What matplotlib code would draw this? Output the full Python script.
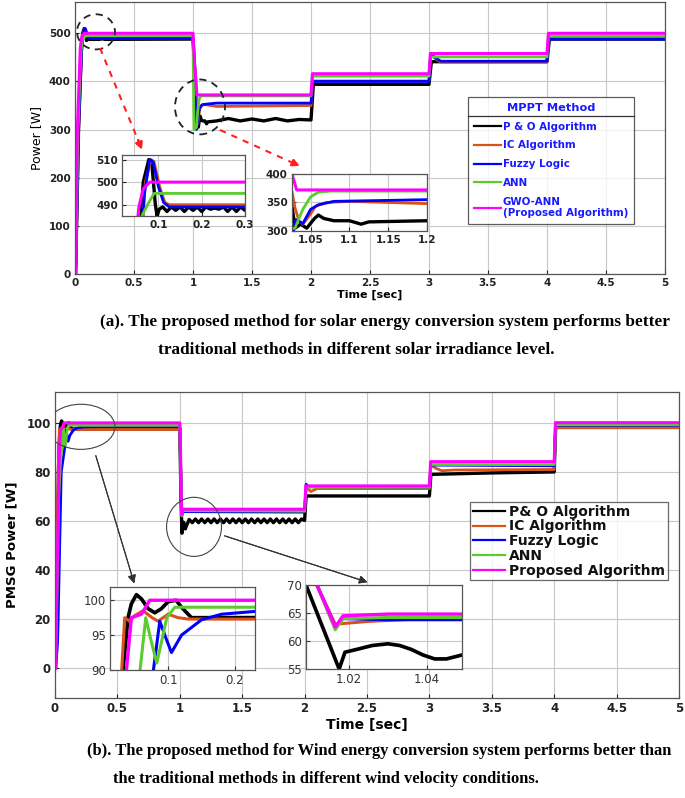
import numpy as np
import matplotlib
matplotlib.use('Agg')
import matplotlib.pyplot as plt
from matplotlib.patches import Ellipse
from matplotlib.lines import Line2D
from matplotlib.ticker import FormatStrFormatter

# ---------------- data: solar (a) ----------------
labels_a = ['P & O Algorithm', 'IC Algorithm', 'Fuzzy Logic', 'ANN',
            'GWO-ANN\n(Proposed Algorithm)']

po_t_a = [0, 0.005, 0.03, 0.055, 0.065, 0.078, 0.085, 0.093, 0.097, 0.102, 0.11, 0.12, 0.13,
          0.14, 0.15, 0.16, 0.17, 0.18, 0.19, 0.2, 0.21, 0.22, 0.23, 0.24, 0.25, 0.26, 0.27,
          0.28, 0.29, 0.3, 1.0, 1.02, 1.03, 1.037, 1.045, 1.055, 1.06, 1.067, 1.08, 1.1,
          1.115, 1.125, 1.2, 1.3, 1.4, 1.5, 1.6, 1.7, 1.8, 1.9, 2.0, 2.02, 3.0, 3.02, 4.0,
          4.02, 5.0]
po_p_a = [0, 0, 300, 470, 500, 510, 508, 490, 485, 488, 489, 487, 489, 487.5, 489, 487, 489,
          487.5, 489, 487, 489, 488, 488.5, 488, 489, 487, 489, 487, 489, 487.5, 488, 400,
          305, 312, 305, 322, 328, 322, 318, 318, 312, 316, 318, 323, 318, 322, 318, 323,
          318, 321, 320, 394, 394, 441, 441, 488, 488]

ic_t_a = [0, 0.006, 0.03, 0.055, 0.07, 0.083, 0.09, 0.103, 0.115, 0.125, 1.0, 1.022, 1.03,
          1.035, 1.04, 1.05, 1.056, 1.07, 1.1, 1.2, 2.0, 2.015, 3.0, 3.015, 3.05, 3.1, 4.0,
          4.015, 5.0]
ic_p_a = [0, 0, 300, 460, 500, 510, 509, 498, 491, 490, 490, 398, 340, 318, 312, 330, 343,
          350, 352, 348, 350, 401, 401, 458, 448, 440, 440, 490, 490]

fz_t_a = [0, 0.006, 0.03, 0.055, 0.068, 0.08, 0.088, 0.1, 0.112, 0.125, 1.0, 1.02, 1.028,
          1.031, 1.04, 1.05, 1.06, 1.08, 1.2, 2.0, 2.015, 3.0, 3.015, 3.05, 3.1, 4.0, 4.015,
          5.0]
fz_p_a = [0, 0, 300, 460, 495, 510, 509, 498, 491, 489, 489, 360, 300, 320, 313, 338, 346,
          352, 355, 355, 400, 400, 458, 450, 442, 442, 488, 488]

ann_t_a = [0, 0.004, 0.025, 0.05, 0.062, 0.075, 0.09, 1.0, 1.008, 1.03, 1.035, 1.04, 1.05,
           1.06, 1.075, 2.0, 2.012, 3.0, 3.012, 4.0, 4.012, 5.0]
ann_p_a = [0, 0, 300, 460, 485, 490, 495, 495, 300, 305, 322, 338, 360, 368, 370, 370, 411,
           411, 451, 451, 494, 494]

gwo_t_a = [0, 0.003, 0.02, 0.045, 0.055, 0.065, 0.08, 1.0, 1.015, 1.026, 1.032, 2.0, 2.012,
           3.0, 3.012, 4.0, 4.012, 5.0]
gwo_p_a = [0, 0, 300, 470, 489, 497, 500, 500, 430, 400, 372, 372, 416, 416, 458, 458, 500,
           500]

# ---------------- data: wind (b) ----------------
labels_b = ['P& O Algorithm', 'IC Algorithm', 'Fuzzy Logic', 'ANN', 'Proposed Algorithm']

po_t_b = [0, 0.004, 0.028, 0.0325, 0.04, 0.045, 0.0525, 0.06, 0.07, 0.08, 0.09, 0.1, 0.112,
          0.12, 0.135, 1.0, 1.009, 1.0175, 1.019, 1.022, 1.026, 1.03, 1.033, 1.036, 1.039,
          1.042, 1.045, 1.049, 1.075, 1.1, 1.125, 1.15, 1.175, 1.2, 1.225, 1.25, 1.275, 1.3,
          1.325, 1.35, 1.375, 1.4, 1.425, 1.45, 1.475, 1.5, 1.525, 1.55, 1.575, 1.6, 1.625,
          1.65, 1.675, 1.7, 1.725, 1.75, 1.775, 1.8, 1.825, 1.85, 1.875, 1.9, 1.925, 1.95,
          1.975, 2.0, 2.012, 3.0, 3.012, 3.5, 4.0, 4.012, 5.0]
po_p_b = [0, 0, 80, 90, 97.5, 99.5, 100.8, 100.2, 98.8, 98.2, 98.8, 99.8, 100, 99, 97.5,
          97.6, 70, 55, 58, 58.5, 59.2, 59.5, 59.2, 58.5, 57.5, 56.8, 56.8, 57.5, 60.6, 59.3,
          60.8, 59.3, 60.8, 59.3, 60.8, 59.3, 60.8, 59.3, 60.8, 59.3, 60.8, 59.3, 60.8, 59.3,
          60.8, 59.3, 60.8, 59.3, 60.8, 59.3, 60.8, 59.3, 60.8, 59.3, 60.8, 59.3, 60.8, 59.3,
          60.8, 59.3, 60.8, 59.3, 60.8, 59.3, 60.8, 60.2, 70.2, 70.2, 79, 79.6, 80, 98.5,
          98.5]

ic_t_b = [0, 0.003, 0.025, 0.0305, 0.035, 0.042, 0.05, 0.0625, 0.076, 0.085, 0.1, 0.115,
          0.13, 1.0, 1.0118, 1.0165, 1.025, 1.04, 2.0, 2.012, 2.05, 2.1, 3.0, 3.012, 3.05,
          3.1, 3.2, 4.0, 4.012, 5.0]
ic_p_b = [0, 0, 80, 90, 97.5, 97, 97.8, 98.5, 97.5, 97, 98, 97.5, 97.3, 97.3, 70, 63, 63.5,
          64, 63.8, 74, 72, 73.2, 73.2, 83, 81.5, 80.5, 80.8, 81, 98, 98]

fz_t_b = [0, 0.006, 0.02, 0.024, 0.05, 0.078, 0.0875, 0.095, 0.105, 0.12, 0.15, 0.18, 0.23,
          0.35, 1.0, 1.0118, 1.0165, 1.0185, 1.03, 2.0, 2.012, 2.03, 3.0, 3.012, 4.0, 4.012,
          5.0]
fz_p_b = [0, 0, 10, 17, 80, 90, 97, 95, 92.5, 95, 97.2, 98, 98.4, 98.5, 98.5, 70, 62.5, 64,
          63.8, 63.6, 75, 74, 73.8, 82.8, 82.5, 99, 99]

ann_t_b = [0, 0.005, 0.03, 0.045, 0.058, 0.0665, 0.075, 0.083, 0.09, 0.098, 0.11, 1.0,
           1.0118, 1.0165, 1.0185, 1.03, 2.0, 2.012, 3.0, 3.012, 4.0, 4.012, 5.0]
ann_p_b = [0, 0, 70, 85, 90, 97.5, 94, 91, 94, 97.5, 99, 99, 70, 62, 64, 64.2, 64, 73.8,
           73.8, 83, 83, 99.2, 99.2]

gwo_t_b = [0, 0.004, 0.033, 0.0376, 0.045, 0.06, 0.0725, 1.0, 1.005, 1.0118, 1.0165,
           1.0185, 1.03, 2.0, 2.01, 3.0, 3.01, 4.0, 4.01, 5.0]
gwo_p_b = [0, 0, 85, 90, 97.5, 98, 100, 100, 90, 70, 62.5, 64.5, 64.8, 64.8, 74.3, 74.3,
           84.2, 84.2, 100.1, 100.1]

colors = ['#000000', '#D95319', '#0000FF', '#5DCB2E', '#FF00FF']
widths = [2.4, 2.0, 2.0, 2.0, 2.2]

series_a = [(po_t_a, po_p_a), (ic_t_a, ic_p_a), (fz_t_a, fz_p_a), (ann_t_a, ann_p_a),
            (gwo_t_a, gwo_p_a)]
series_b = [(po_t_b, po_p_b), (ic_t_b, ic_p_b), (fz_t_b, fz_p_b), (ann_t_b, ann_p_b),
            (gwo_t_b, gwo_p_b)]

W, H = 685, 798


def fx(x):
    return x / W


def fy(y):
    return 1 - y / H


def box(x0, y0, x1, y1):
    return [fx(x0), fy(y1), (x1 - x0) / W, (y1 - y0) / H]


def draw(ax, series, lw_scale=1.0):
    order = [1, 2, 3, 0, 4]
    for i in order:
        t, p = series[i]
        ax.plot(t, p, color=colors[i], lw=widths[i] * lw_scale, zorder=2 + i * 0.1)


def style(ax, fs, weight='bold', color='#222222'):
    ax.grid(True, color='#c8c8c8', lw=0.8)
    ax.set_axisbelow(True)
    ax.tick_params(direction='in', length=3, labelsize=fs, colors=color, pad=3)
    for lab in ax.get_xticklabels() + ax.get_yticklabels():
        lab.set_fontweight(weight)
    for s in ax.spines.values():
        s.set_color('#555555')
        s.set_linewidth(0.9)
    ax.xaxis.set_major_formatter(FormatStrFormatter('%g'))
    ax.yaxis.set_major_formatter(FormatStrFormatter('%g'))


fig = plt.figure(figsize=(W / 100, H / 100), dpi=100)

# ================= panel (a) =================
axa = fig.add_axes(box(75, 2, 665, 274))
draw(axa, series_a)
axa.set_xlim(0, 5)
axa.set_ylim(0, 565)
axa.set_xticks(np.arange(0, 5.01, 0.5))
axa.set_yticks(np.arange(0, 501, 100))
style(axa, 7.5)
axa.set_xlabel('Time [sec]', fontsize=8, fontweight='bold', labelpad=1)
axa.set_ylabel('Power [W]', fontsize=9, labelpad=4)

handles = [Line2D([], [], color=c, lw=1.6) for c in colors]
leg = axa.legend(handles, labels_a, loc='upper left', bbox_to_anchor=(fx(468), fy(97)),
                 bbox_transform=fig.transFigure, title='MPPT Method', frameon=True,
                 fancybox=False, edgecolor='#333333', fontsize=7.35, handlelength=2.6,
                 handletextpad=0.2, labelspacing=0.85, borderpad=0.6, borderaxespad=0,
                 title_fontproperties={'weight': 'bold', 'size': 8.2})
leg.get_frame().set_linewidth(0.9)
leg.get_title().set_color('#1a1aff')
for txt in leg.get_texts():
    txt.set_color('#1a1aff')
    txt.set_fontweight('bold')

# insets (a)
ia1 = fig.add_axes(box(122, 155, 245, 216))
draw(ia1, series_a, 1.0)
ia1.set_xlim(0.016, 0.3)
ia1.set_ylim(485, 512)
ia1.set_xticks([0.1, 0.2, 0.3])
ia1.set_yticks([490, 500, 510])
style(ia1, 7.5)

ia2 = fig.add_axes(box(292, 174, 427, 231))
draw(ia2, series_a, 1.0)
ia2.set_xlim(1.026, 1.2)
ia2.set_ylim(300, 400)
ia2.set_xticks([1.05, 1.1, 1.15, 1.2])
ia2.set_yticks([300, 350, 400])
style(ia2, 7.5)

# dashed circles and red arrows (a)
axa.add_patch(Ellipse((0.178, 503), 0.322, 73, fill=False, ls=(0, (4, 3)), lw=1.3,
                      color='#222222', zorder=6))
axa.add_patch(Ellipse((1.059, 347), 0.424, 114, fill=False, ls=(0, (4, 3)), lw=1.3,
                      color='#222222', zorder=6))
for (x0, y0), (x1, y1) in [((100, 48), (143, 152)), ((220, 130), (302, 167))]:
    fig.add_artist(Line2D([fx(x0), fx(x0 + (x1 - x0) * 0.88)],
                          [fy(y0), fy(y0 + (y1 - y0) * 0.88)], color='#ff2020', lw=1.5,
                          ls=(0, (3, 3)), transform=fig.transFigure))
    fig.add_artist(plt.annotate('', xy=(fx(x1), fy(y1)),
                                xytext=(fx(x0 + (x1 - x0) * 0.86), fy(y0 + (y1 - y0) * 0.86)),
                                xycoords='figure fraction', textcoords='figure fraction',
                                arrowprops=dict(arrowstyle='-|>', color='#ff2020', lw=1.5,
                                                mutation_scale=10)))

fig.text(fx(100), fy(322), '(a). The proposed method for solar energy conversion system performs better',
         family='Liberation Serif', weight='bold', fontsize=12.4, va='center', ha='left')
fig.text(fx(158), fy(350), 'traditional methods in different solar irradiance level.',
         family='Liberation Serif', weight='bold', fontsize=12.4, va='center', ha='left')

# ================= panel (b) =================
axb = fig.add_axes(box(55, 392, 679, 698))
draw(axb, series_b)
axb.set_xlim(0, 5)
axb.set_ylim(-12.2, 112.6)
axb.set_xticks(np.arange(0, 5.01, 0.5))
axb.set_yticks(np.arange(0, 101, 20))
style(axb, 8.5)
axb.set_xlabel('Time [sec]', fontsize=10, fontweight='bold', labelpad=2)
axb.set_ylabel('PMSG Power [W]', fontsize=9.5, fontweight='bold', labelpad=6)

legb = axb.legend(handles, labels_b, loc='upper left', bbox_to_anchor=(fx(470), fy(502)),
                  bbox_transform=fig.transFigure, frameon=True, fancybox=False,
                  edgecolor='#444444', fontsize=10, handlelength=2.3, handletextpad=0.3,
                  labelspacing=0.05, borderpad=0.2, borderaxespad=0)
legb.get_frame().set_linewidth(0.9)
for txt in legb.get_texts():
    txt.set_fontweight('bold')
    txt.set_color('#111111')

ib1 = fig.add_axes(box(110, 587, 255, 670))
draw(ib1, series_b, 1.1)
ib1.set_xlim(0.013, 0.23)
ib1.set_ylim(90, 101.9)
ib1.set_xticks([0.1, 0.2])
ib1.set_yticks([90, 95, 100])
style(ib1, 8.5, weight='normal', color='#333333')

ib2 = fig.add_axes(box(306, 585, 462, 669))
draw(ib2, series_b, 1.1)
ib2.set_xlim(1.009, 1.049)
ib2.set_ylim(55, 70)
ib2.set_xticks([1.02, 1.04])
ib2.set_yticks([55, 60, 65, 70])
style(ib2, 8.5, weight='normal', color='#333333')

axb.add_patch(Ellipse((0.208, 98.4), 0.545, 18.4, fill=False, lw=0.8, color='#444444',
                      zorder=6))
axb.add_patch(Ellipse((1.114, 57.6), 0.44, 24.1, fill=False, lw=0.8, color='#444444',
                      zorder=6))
for (x0, y0), (x1, y1) in [((95, 453), (135, 586)), ((222, 535), (370, 583))]:
    fig.add_artist(plt.annotate('', xy=(fx(x1), fy(y1)), xytext=(fx(x0), fy(y0)),
                                xycoords='figure fraction', textcoords='figure fraction',
                                arrowprops=dict(arrowstyle='-|>', color='#333333', lw=0.8,
                                                mutation_scale=12)))

fig.text(fx(87), fy(751), '(b). The proposed method for Wind energy conversion system performs better than',
         family='Liberation Serif', weight='bold', fontsize=11.9, va='center', ha='left')
fig.text(fx(113), fy(779), 'the traditional methods in different wind velocity conditions.',
         family='Liberation Serif', weight='bold', fontsize=11.9, va='center', ha='left')

# separator line under the legend title (a)
fig.canvas.draw()
lb = leg.get_window_extent()
tb = leg.get_title().get_window_extent()
ysep = tb.y0 - 3
fig.add_artist(Line2D([lb.x0 / W, lb.x1 / W], [ysep / H, ysep / H], color='#333333', lw=0.9,
                      transform=fig.transFigure))

fig.savefig('out.png', dpi=100)
